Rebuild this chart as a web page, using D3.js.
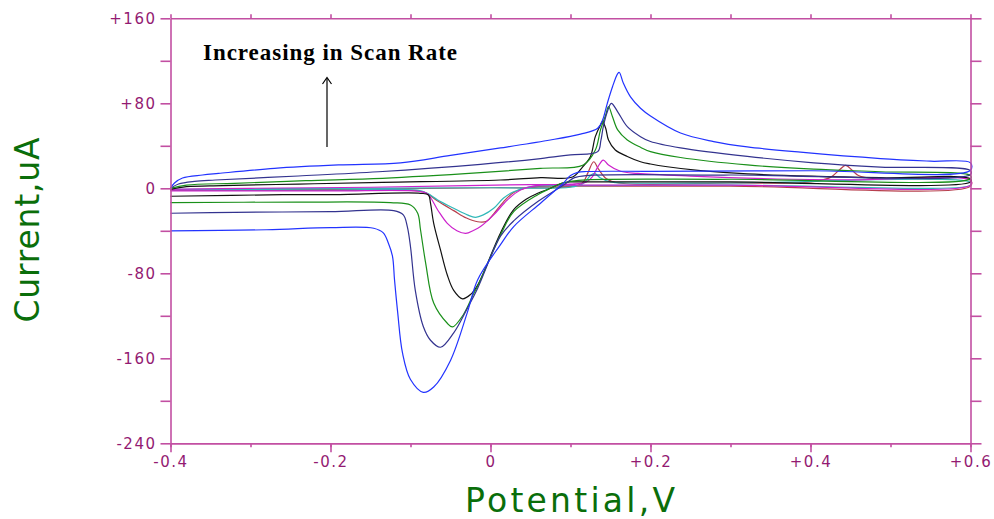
<!DOCTYPE html>
<html><head><meta charset="utf-8">
<script src="https://cdn.jsdelivr.net/npm/d3@7"></script>
<style>body{margin:0;background:#fff;} svg{display:block;}</style>
</head><body>
<svg id="chart" width="994" height="519"></svg>
<script>
// ---- axis ticks ----
const xTicksMajor = [-0.4, -0.2, 0, 0.2, 0.4, 0.6];
const xTicksMinor = [-0.4, -0.3, -0.2, -0.1, 0, 0.1, 0.2, 0.3, 0.4, 0.5, 0.6];
const yTicksMajor = [160, 80, 0, -80, -160, -240];
const yTicksMinor = [160, 120, 80, 40, 0, -40, -80, -120, -160, -200, -240];

// ---- voltammograms [potential V, current uA], scan order ----
const scanRed = [[-0.4,-2],[-0.2,-1],[0.0,0.5],[0.1,1.5],[0.115,5],[0.122,15],[0.129,25],[0.135,18],[0.145,9],[0.16,5],[0.3,5],[0.4,6],[0.425,10.3],[0.437,18],[0.444,21.5],[0.452,17],[0.46,12],[0.48,9],[0.6,8],
  [0.6,2],[0.3,2],[0.1,2],[0.05,1],[0.029,-4],[0.016,-13],[0.004,-24],[-0.005,-31],[-0.016,-31.5],[-0.03,-28],[-0.046,-21],[-0.066,-12],[-0.079,-5],[-0.09,-2.5],[-0.2,-2],[-0.4,-2]];
const scanCyan = [[-0.4,-1],[-0.2,0],[0.0,0.5],[0.1,1],[0.115,4],[0.125,12],[0.13,14],[0.137,10],[0.15,6],[0.17,5],[0.3,5],[0.6,5.5],
  [0.6,3],[0.3,3],[0.1,2.5],[0.05,1.5],[0.029,-3.2],[0.016,-9.4],[0.004,-18.8],[-0.009,-25],[-0.019,-27.3],[-0.029,-25],[-0.046,-18.8],[-0.066,-11],[-0.079,-4.7],[-0.09,-2],[-0.2,-1.6],[-0.4,-1.6]];
const scanMagenta = [[-0.4,-1],[-0.3,0],[-0.15,1],[-0.03,2.5],[0.05,3.5],[0.1,4],[0.12,6],[0.1275,11],[0.134,20],[0.141,26.6],[0.1475,22],[0.1625,16],[0.184,14],[0.25,11.5],[0.35,9],[0.45,8],[0.6,7.5],
  [0.6,3],[0.3,3],[0.1,3],[0.0625,3],[0.0375,-1.6],[0.021,-11],[0.004,-25],[-0.0125,-36],[-0.021,-39.5],[-0.031,-42.5],[-0.042,-40],[-0.054,-33],[-0.066,-20.4],[-0.079,-5],[-0.09,-2.8],[-0.2,-2.5],[-0.4,-2.5]];
const scanBlack = [[-0.4,-1],[-0.38,1.5],[-0.335,2.5],[-0.24,4],[-0.135,5.6],[0.0125,7.8],[0.0625,10],[0.1025,10.6],[0.115,20],[0.125,30],[0.131,48.6],[0.1375,59.6],[0.14,62.7],[0.144,56.5],[0.1475,45.5],[0.156,36],[0.171,30],[0.1875,25],[0.2,22.9],[0.221,20.3],[0.2625,16.6],[0.321,13.5],[0.4875,10],[0.6,9],
  [0.6,6],[0.3,6],[0.12,6],[0.1,6],[0.09,5],[0.075,0],[0.059,-4.7],[0.045,-10],[0.029,-20],[0.0125,-42],[-0.016,-91],[-0.025,-100],[-0.035,-104],[-0.046,-96],[-0.054,-81.6],[-0.0625,-58],[-0.071,-33],[-0.075,-14],[-0.0775,-6.3],[-0.0875,-4.7],[-0.2,-6],[-0.26,-6],[-0.4,-7.5]];
const scanGreen = [[-0.4,0],[-0.38,3],[-0.32,4.7],[-0.231,7.2],[-0.135,9.4],[-0.0125,14.7],[0.0625,18.8],[0.116,22],[0.131,36],[0.1375,55],[0.144,69],[0.1475,77],[0.1525,67.4],[0.159,55],[0.171,45.5],[0.1875,38.6],[0.2,34.5],[0.2375,29],[0.321,22],[0.404,18],[0.4875,15.6],[0.6,12],
  [0.6,9],[0.3,8.5],[0.12,8],[0.1,6.5],[0.09,5],[0.075,0],[0.059,-6],[0.029,-22],[0.0125,-44],[-0.016,-92],[-0.021,-99],[-0.034,-119],[-0.0475,-130.5],[-0.054,-127],[-0.071,-108],[-0.081,-70.6],[-0.0875,-39],[-0.091,-23.5],[-0.1,-15.7],[-0.125,-13.5],[-0.24,-13],[-0.4,-13.5]];
const scanNavy = [[-0.4,0],[-0.39,4],[-0.37,6.5],[-0.344,7.8],[-0.24,11.6],[-0.14,15.6],[-0.0125,22.6],[0.0625,28],[0.1,31.5],[0.134,34.5],[0.138,45],[0.141,58],[0.146,72],[0.151,80],[0.159,72],[0.171,58],[0.1875,48.6],[0.2,44],[0.2375,38],[0.321,30],[0.404,24],[0.4875,20],[0.6,16.6],
  [0.6,13],[0.3,12.5],[0.12,12],[0.105,10],[0.095,5],[0.085,0],[0.06,-12],[0.03,-30],[0.0125,-45],[-0.016,-94],[-0.029,-113],[-0.046,-136],[-0.0625,-149.6],[-0.075,-143],[-0.084,-130],[-0.094,-96],[-0.1,-55],[-0.104,-36],[-0.109,-25],[-0.121,-21],[-0.2,-22],[-0.32,-22.6],[-0.4,-23.5]];
const scanBlue = [[-0.4,0],[-0.395,5],[-0.385,9.7],[-0.36,12.5],[-0.34,14],[-0.27,18.8],[-0.19,22],[-0.1125,24],[-0.05,31],[0.0125,38],[0.071,45],[0.1125,51],[0.134,56.5],[0.14,64],[0.146,80],[0.1525,95.6],[0.159,108],[0.161,109],[0.166,99],[0.175,86],[0.1875,75.3],[0.2,68],[0.2375,52],[0.279,44],[0.321,39],[0.3875,34],[0.4875,28],[0.55,25.5],[0.6,24],
  [0.6,17],[0.4,16.5],[0.2,16],[0.12,15.8],[0.109,15],[0.1,12],[0.09,4],[0.084,0],[0.0625,-14],[0.029,-36],[0.0125,-53],[-0.016,-86],[-0.029,-117],[-0.05,-162],[-0.071,-187],[-0.084,-192],[-0.1,-180],[-0.11,-155],[-0.116,-117],[-0.12,-86],[-0.1225,-64],[-0.1275,-52],[-0.134,-42],[-0.146,-37.6],[-0.2,-37],[-0.28,-39],[-0.4,-40]];

const scans = [scanRed, scanCyan, scanMagenta, scanBlack, scanGreen, scanNavy, scanBlue];
const scanColors = ["#b8404e", "#30b8b8", "#cc22cc", "#111111", "#1a901a", "#33338f", "#2233ff"];

// ---- texts ----
const xTitle = "Potential,V";
const yTitle = "Current,uA";
const note = "Increasing in Scan Rate";

const svg = d3.select("#chart");
const x = d3.scaleLinear().domain([-0.4, 0.6]).range([170.5, 970.5]);
const y = d3.scaleLinear().domain([-240, 160]).range([443.3, 18.3]);

const axisCol = "#c24fa2", labCol = "#931a72";
const fmtX = d => Math.abs(d) < 1e-9 ? "0" : (d > 0 ? "+" : "-") + Math.abs(d).toFixed(1);
const fmtY = d => d === 0 ? "0" : (d > 0 ? "+" : "-") + Math.abs(d);

function styleAxis(g) {
  g.selectAll("path, line").attr("stroke", axisCol).attr("stroke-width", 1.6);
  g.selectAll("text").attr("fill", labCol).attr("font-family", "DejaVu Sans, Verdana, sans-serif")
    .attr("font-size", 15).attr("letter-spacing", "1.5px");
}

// curves
const line = d3.line().x(d => x(d[0])).y(d => y(d[1])).curve(d3.curveCatmullRom.alpha(0.5));
svg.append("g").selectAll("path").data(scans).join("path")
  .attr("d", line).attr("fill", "none")
  .attr("stroke", (d, i) => scanColors[i]).attr("stroke-width", 1.2);

// bottom minor + major
svg.append("g").attr("transform", `translate(0,${y(-240)})`)
  .call(d3.axisBottom(x).tickValues(xTicksMinor).tickSize(4).tickSizeOuter(0).tickFormat(""))
  .call(styleAxis);
svg.append("g").attr("transform", `translate(0,${y(-240)})`)
  .call(d3.axisBottom(x).tickValues(xTicksMajor).tickSize(9).tickSizeOuter(0).tickPadding(4).tickFormat(fmtX))
  .call(styleAxis);
// top
svg.append("g").attr("transform", `translate(0,${y(160)})`)
  .call(d3.axisTop(x).tickValues(xTicksMinor).tickSize(4).tickSizeOuter(0).tickFormat(""))
  .call(styleAxis);
// left
svg.append("g").attr("transform", `translate(${x(-0.4)},0)`)
  .call(d3.axisLeft(y).tickValues(yTicksMinor).tickSize(10).tickSizeOuter(0).tickPadding(4)
    .tickFormat(d => yTicksMajor.includes(d) ? fmtY(d) : ""))
  .call(styleAxis);
// right
svg.append("g").attr("transform", `translate(${x(0.6)},0)`)
  .call(d3.axisRight(y).tickValues(yTicksMinor).tickSize(11).tickSizeOuter(0).tickFormat(""))
  .call(styleAxis);

// axis titles
svg.append("text").attr("x", 570).attr("y", 512).attr("text-anchor", "middle")
  .attr("font-family", "DejaVu Sans, Verdana, sans-serif").attr("font-size", 33)
  .attr("fill", "#0a6e0a").attr("textLength", 210).attr("lengthAdjust", "spacing").text(xTitle);
svg.append("text").attr("transform", "translate(39,230) rotate(-90)").attr("text-anchor", "middle")
  .attr("font-family", "DejaVu Sans, Verdana, sans-serif").attr("font-size", 33)
  .attr("fill", "#0a6e0a").attr("textLength", 185).attr("lengthAdjust", "spacing").text(yTitle);

// annotation
svg.append("text").attr("x", 203).attr("y", 60)
  .attr("font-family", "Liberation Serif, Times New Roman, serif").attr("font-weight", "bold")
  .attr("font-size", 23).attr("fill", "#000").attr("textLength", 254).attr("lengthAdjust", "spacing").text(note);
svg.append("line").attr("x1", 327).attr("x2", 327).attr("y1", 147).attr("y2", 78)
  .attr("stroke", "#000").attr("stroke-width", 1.2);
svg.append("path").attr("d", "M322.5,84 L327,77.5 L331.5,84").attr("fill", "none")
  .attr("stroke", "#000").attr("stroke-width", 1.2);
</script>
</body></html>
